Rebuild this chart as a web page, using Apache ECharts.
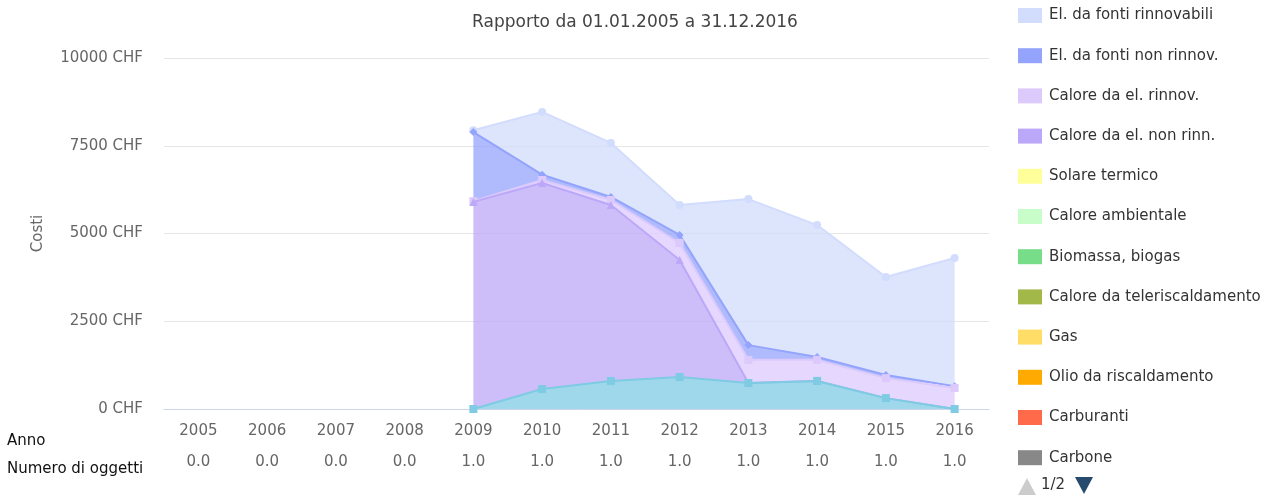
<!DOCTYPE html>
<html>
<head>
<meta charset="utf-8">
<script src="https://cdn.jsdelivr.net/npm/echarts@6/dist/echarts.min.js"></script>
<style>html,body{margin:0;padding:0;background:#fff}#c{width:1270px;height:504px}</style>
</head>
<body>
<div id="c"></div>
<script>
// ---- data ----
const years = ['2005','2006','2007','2008','2009','2010','2011','2012','2013','2014','2015','2016'];
const numObjects = [0,0,0,0,1,1,1,1,1,1,1,1];
const yTicks = [0, 2500, 5000, 7500, 10000];

const elRinnovabili   = [null,null,null,null, 50, 1790, 1540, 850, 4160, 3760, 2790, 3650];
const elNonRinnov     = [null,null,null,null, 1970, 150, 85, 230, 420, 80, 90, 50];
const caloreElRinnov  = [null,null,null,null, 20, 85, 145, 485, 660, 600, 570, 600];
const caloreElNonRinn = [null,null,null,null, 5900, 5870, 5010, 3335, 0, 0, 0, 0];
const solareTermico   = [null,null,null,null,null,null,null,null,null,null,null,null];
const caloreAmbiente  = [null,null,null,null,null,null,null,null,null,null,null,null];
const biomassa        = [null,null,null,null,null,null,null,null,null,null,null,null];
const teleriscald     = [null,null,null,null,null,null,null,null,null,null,null,null];
const gas             = [null,null,null,null,null,null,null,null,null,null,null,null];
const olio            = [null,null,null,null,null,null,null,null,null,null,null,null];
const carburanti      = [null,null,null,null,null,null,null,null,null,null,null,null];
const carbone         = [null,null,null,null,null,null,null,null,null,null,null,null];
const acqua           = [null,null,null,null, 0, 570, 800, 910, 740, 800, 310, 0];

// legend order (top of stack first)
const seriesDefs = [
  {name:'El. da fonti rinnovabili', data: elRinnovabili, color:'#d2dcfc', symbol:'circle'},
  {name:'El. da fonti non rinnov.', data: elNonRinnov, color:'#94a4fc', symbol:'diamond'},
  {name:'Calore da el. rinnov.', data: caloreElRinnov, color:'#dccafc', symbol:'rect'},
  {name:'Calore da el. non rinn.', data: caloreElNonRinn, color:'#bca8f8', symbol:'triangle'},
  {name:'Solare termico', data: solareTermico, color:'#ffff99', symbol:'triangle'},
  {name:'Calore ambientale', data: caloreAmbiente, color:'#c8fcc8', symbol:'circle'},
  {name:'Biomassa, biogas', data: biomassa, color:'#77dd88', symbol:'diamond'},
  {name:'Calore da teleriscaldamento', data: teleriscald, color:'#a2b849', symbol:'rect'},
  {name:'Gas', data: gas, color:'#ffdd66', symbol:'triangle'},
  {name:'Olio da riscaldamento', data: olio, color:'#ffaa00', symbol:'triangle'},
  {name:'Carburanti', data: carburanti, color:'#ff6a4a', symbol:'circle'},
  {name:'Carbone', data: carbone, color:'#888888', symbol:'diamond'},
  {name:'Acqua', data: acqua, color:'#7ecbe3', symbol:'rect'}
];

const FONT = 'DejaVu Sans';
const series = seriesDefs.map((d, k) => ({
  name: d.name,
  type: 'line',
  stack: 'total',
  data: d.data,
  z: 2 + k,
  symbol: d.symbol,
  symbolSize: 8,
  showSymbol: true,
  connectNulls: false,
  color: d.color,
  lineStyle: {width: 2, color: d.color},
  itemStyle: {color: d.color},
  areaStyle: {color: d.color, opacity: 0.75},
  emphasis: {disabled: true}
})).reverse(); // bottom of stack first for ECharts

const chart = echarts.init(document.getElementById('c'), null, {renderer: 'canvas'});
chart.setOption({
  animation: false,
  textStyle: {fontFamily: FONT},
  title: {
    text: 'Rapporto da 01.01.2005 a 31.12.2016',
    left: 'center', top: 9,
    textStyle: {fontFamily: FONT, fontSize: 17, fontWeight: 'normal', color: '#444'}
  },
  legend: {
    type: 'plain',
    orient: 'vertical',
    left: 1018, top: 8,
    padding: 0,
    itemWidth: 24, itemHeight: 15, itemGap: 25.2,
    icon: 'rect',
    data: seriesDefs.slice(0, 12).map(d => d.name),
    textStyle: {fontFamily: FONT, fontSize: 15, color: '#333', padding: [0, 0, 0, 2]},
    z: 50
  },
  grid: {left: 164, right: 281, top: 58, bottom: 95, containLabel: false},
  xAxis: {
    type: 'category',
    data: years,
    boundaryGap: true,
    axisLine: {lineStyle: {color: '#ccd6eb', width: 1}},
    axisTick: {alignWithLabel: true, interval: 0, length: 10, lineStyle: {color: '#ccd6eb'}},
    axisLabel: {
      interval: 0,
      margin: 7,
      formatter: (v, i) => '{y|' + v + '}\n{n|' + numObjects[i].toFixed(1) + '}',
      rich: {
        y: {fontFamily: FONT, fontSize: 15, color: '#666', lineHeight: 31},
        n: {fontFamily: FONT, fontSize: 15, color: '#666', lineHeight: 31}
      }
    },
    splitLine: {show: false}
  },
  yAxis: {
    type: 'value',
    min: yTicks[0], max: yTicks[yTicks.length - 1], interval: 2500,
    name: 'Costi',
    nameLocation: 'middle',
    nameRotate: 90,
    nameGap: 118,
    nameTextStyle: {fontFamily: FONT, fontSize: 15, color: '#666'},
    axisLine: {show: false},
    axisTick: {show: false},
    axisLabel: {formatter: v => v + ' CHF', fontFamily: FONT, fontSize: 15, color: '#666', margin: 21},
    splitLine: {lineStyle: {color: '#e6e6e6', width: 1}}
  },
  graphic: [
    {type: 'text', left: 7, top: 434, style: {text: 'Anno', font: '15px "DejaVu Sans"', fill: '#111'}},
    {type: 'text', left: 7, top: 462, style: {text: 'Numero di oggetti', font: '15px "DejaVu Sans"', fill: '#111'}},
    {type: 'polygon', shape: {points: [[1018, 495], [1036, 495], [1027, 478]]}, style: {fill: '#cccccc'}},
    {type: 'text', left: 1041, top: 478, style: {text: '1/2', font: '15px "DejaVu Sans"', fill: '#333'}},
    {type: 'polygon', shape: {points: [[1075, 477], [1093, 477], [1084, 494]]}, style: {fill: '#274b6d'}}
  ],
  series: series
});
</script>
</body>
</html>
